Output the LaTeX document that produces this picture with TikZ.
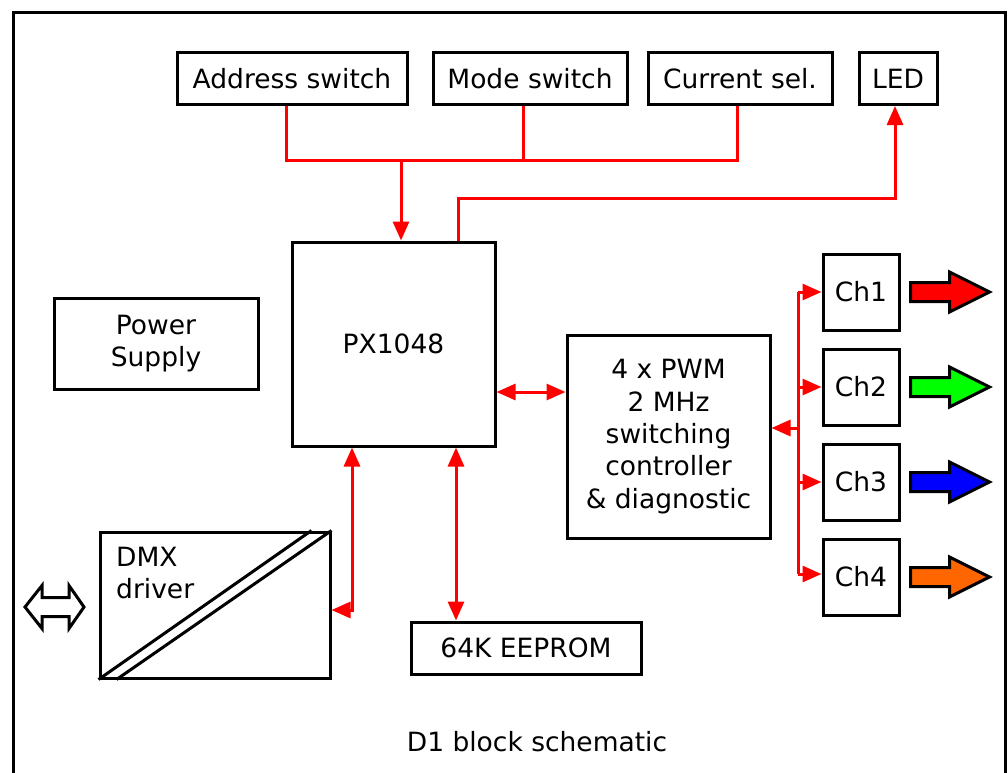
\documentclass[tikz,border=0pt]{standalone}
\usepackage{fontspec}
\setmainfont{DejaVu Sans}
\usetikzlibrary{arrows.meta,calc}
\definecolor{cred}{RGB}{255,0,0}
\definecolor{cgreen}{RGB}{0,255,0}
\definecolor{cblue}{RGB}{0,0,255}
\definecolor{corange}{RGB}{255,102,0}
\begin{document}
\begin{tikzpicture}[x=1pt,y=-1pt,
  box/.style={draw=black,line width=3pt,inner sep=0pt,align=center,font=\fontsize{26.5}{32.3}\selectfont},
  rl/.style={draw=cred,line width=3pt},
  tip/.style={-{Triangle[length=19pt,width=16pt]}},
  dtip/.style={{Triangle[length=19pt,width=16pt]}-{Triangle[length=19pt,width=16pt]}},
  fatarr/.style={draw=black,line width=3pt,line join=miter},
  lbl/.style={font=\fontsize{26.5}{32.3}\selectfont,inner sep=0pt}]
\useasboundingbox (0,0) rectangle (1008,772);
\fill[white] (0,0) rectangle (1008,772);
% frame
\draw[line width=3pt] (13,800) -- (13,12) -- (1005,12) -- (1005,800);
% boxes
\node[box,minimum width=230pt,minimum height=52pt] (addr) at (292,78.5) {Address switch};
\node[box,minimum width=194pt,minimum height=52pt] (mode) at (530,78.5) {Mode switch};
\node[box,minimum width=184pt,minimum height=52pt] (cur) at (740,78.5) {Current sel.};
\node[box,minimum width=78pt,minimum height=52pt] (led) at (898,78.5) {LED};
\node[box,minimum width=203pt,minimum height=204pt] (px) at (393.5,344) {PX1048};
\node[box,minimum width=204pt,minimum height=91pt] (pow) at (156,343.5) {Power\\Supply};
\node[box,minimum width=203pt,minimum height=203pt] (pwm) at (668.5,436.5) {4 x PWM\\2 MHz\\switching\\controller\\\& diagnostic};
\node[box,minimum width=76pt,minimum height=76pt] (ch1) at (861,292) {Ch1};
\node[box,minimum width=76pt,minimum height=76pt] (ch2) at (861,387) {Ch2};
\node[box,minimum width=76pt,minimum height=76pt] (ch3) at (861,482) {Ch3};
\node[box,minimum width=76pt,minimum height=76pt] (ch4) at (861,577) {Ch4};
\node[box,minimum width=230pt,minimum height=146pt] (dmx) at (215,605) {};
\node[lbl,anchor=north west,align=left] (dmxt) at (116,547) {DMX\\driver};
\node[box,minimum width=230pt,minimum height=52pt] (eep) at (526,648) {64K EEPROM};
\node[lbl] (title) at (537,742) {D1 block schematic};
% DMX diagonals
\draw[line width=3pt] (dmx.south west) -- ([xshift=-20pt]dmx.north east);
\draw[line width=3pt] ([xshift=18pt]dmx.south west) -- (dmx.north east);
% left double hollow arrow
\draw[fatarr,fill=white] (25,607) -- (42,585.5) -- (42,597.5) -- (69,597.5) -- (69,585.5) -- (84,607) -- (69,628.5) -- (69,616.5) -- (42,616.5) -- (42,628.5) -- cycle;
% switch bus
\coordinate (bus) at (401,160);
\draw[rl] ([xshift=-6pt]addr.south) -- ([xshift=-6pt]addr.south |- bus) -- ([xshift=-3pt]cur.south |- bus) -- ([xshift=-3pt]cur.south);
\draw[rl] ([xshift=-7pt]mode.south) -- ([xshift=-7pt]mode.south |- bus);
\draw[rl,tip] (bus) -- (bus |- px.north);
% LED
\coordinate (ledb) at (895,198);
\draw[rl,tip] ([xshift=64.5pt]px.north) -- ([xshift=64.5pt]px.north |- ledb) -- (ledb) -- (ledb |- led.south);
% PX <-> PWM
\coordinate (pp) at (0,392);
\draw[rl,dtip] (px.east |- pp) -- (pwm.west |- pp);
% PX <-> DMX
\coordinate (dm) at (352,610);
\draw[rl,dtip] (dm |- px.south) -- (dm) -- (dm -| dmx.east);
% PX <-> EEPROM
\draw[rl,dtip] ([xshift=62.5pt]px.south) -- ([xshift=62.5pt]px.south |- eep.north);
% channel trunk
\coordinate (tr) at (798,428);
\draw[rl] (tr |- ch1.west) -- ([yshift=3pt]tr |- ch4.west);
\draw[rl,tip] (tr) -- (tr -| pwm.east);
\foreach \n in {ch1,ch2,ch3} {\draw[rl,tip] (tr |- \n.west) -- (\n.west);}
\draw[rl,tip] ([yshift=3pt]tr |- ch4.west) -- ([yshift=3pt]ch4.west);
% colour arrows
\foreach \n/\c in {ch1/cred,ch2/cgreen,ch3/cblue,ch4/corange} {
  \draw[fatarr,fill=\c] ($(\n.east)+(10,-9.5)$) -- ++(39,0) -- ++(0,-10.5) -- ++(40,20) -- ++(-40,20) -- ++(0,-10.5) -- ++(-39,0) -- cycle;
}
\end{tikzpicture}
\end{document}
